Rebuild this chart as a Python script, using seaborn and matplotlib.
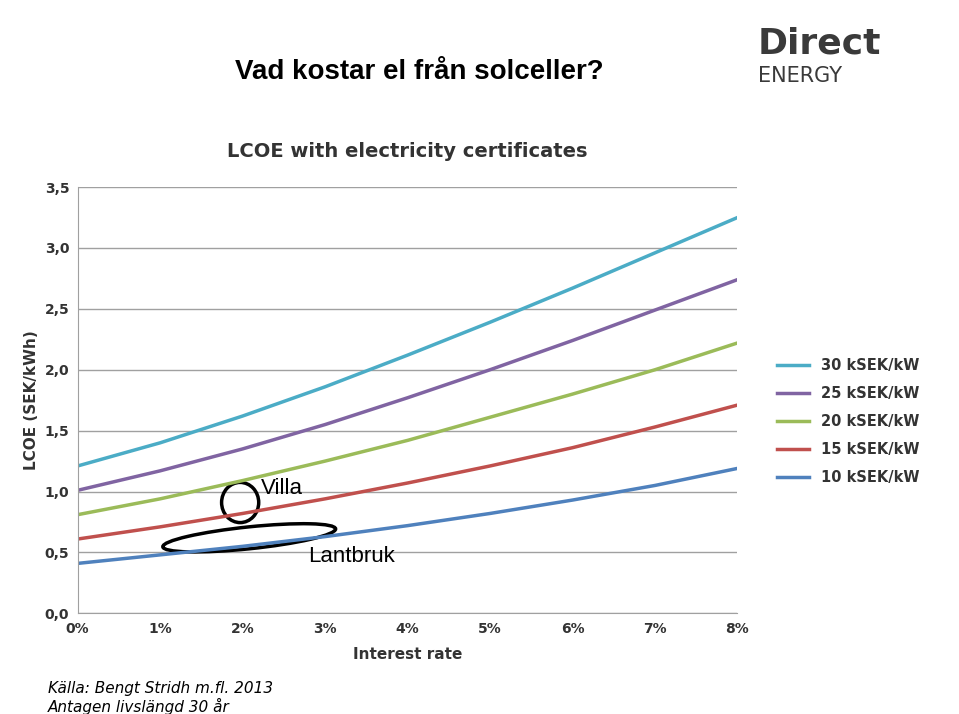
import matplotlib
matplotlib.use("Agg")
import matplotlib.pyplot as plt
from matplotlib.patches import Ellipse
import seaborn as sns
import pandas as pd

rates = [0, 1, 2, 3, 4, 5, 6, 7, 8]
s30 = [1.21, 1.40, 1.62, 1.86, 2.12, 2.39, 2.67, 2.96, 3.25]
s25 = [1.01, 1.17, 1.35, 1.55, 1.77, 2.00, 2.24, 2.49, 2.74]
s20 = [0.81, 0.94, 1.09, 1.25, 1.42, 1.61, 1.80, 2.00, 2.22]
s15 = [0.61, 0.71, 0.82, 0.94, 1.07, 1.21, 1.36, 1.53, 1.71]
s10 = [0.41, 0.48, 0.55, 0.63, 0.72, 0.82, 0.93, 1.05, 1.19]
labels = ["30 kSEK/kW", "25 kSEK/kW", "20 kSEK/kW", "15 kSEK/kW", "10 kSEK/kW"]
colors = ["#4bacc6", "#8064a2", "#9bbb59", "#c0504d", "#4f81bd"]
yticks = [0, 0.5, 1.0, 1.5, 2.0, 2.5, 3.0, 3.5]

rows = []
for lab, vals in zip(labels, [s30, s25, s20, s15, s10]):
    for r, v in zip(rates, vals):
        rows.append({"rate": r, "lcoe": v, "series": lab})
df = pd.DataFrame(rows)

fig = plt.figure(figsize=(9.59, 7.14), dpi=100)
ax = fig.add_axes([0.081, 0.141, 0.688, 0.597])
sns.lineplot(data=df, x="rate", y="lcoe", hue="series", hue_order=labels,
             palette=colors, linewidth=2.5, ax=ax)
ax.set_xlim(0, 8)
ax.set_ylim(0, 3.5)
ax.set_yticks(yticks)
ax.set_yticklabels([f"{t:.1f}".replace(".", ",") for t in yticks], fontsize=10, fontweight="bold", color="#333333")
ax.set_xticks(rates)
ax.set_xticklabels([f"{r}%" for r in rates], fontsize=10, fontweight="bold", color="#333333")
ax.grid(axis="y", color="#a0a0a0", linewidth=1)
ax.set_axisbelow(True)
for sp in ["top", "right"]:
    ax.spines[sp].set_visible(False)
ax.spines["left"].set_color("#a0a0a0")
ax.spines["bottom"].set_color("#a0a0a0")
ax.tick_params(length=0, pad=6)
ax.set_xlabel("Interest rate", fontsize=11, fontweight="bold", color="#333333", labelpad=8)
ax.set_ylabel("LCOE (SEK/kWh)", fontsize=11, fontweight="bold", color="#333333")
ax.set_title("LCOE with electricity certificates", fontsize=14, fontweight="bold",
             color="#333333", pad=22)
leg = ax.legend(loc="center left", bbox_to_anchor=(1.04, 0.45), frameon=False,
          prop={"size": 10.5, "weight": "bold"}, labelspacing=0.9, handlelength=2.2)
for t in leg.get_texts():
    t.set_color("#333333")

ax.add_patch(Ellipse((1.97, 0.91), 0.45, 0.33, fill=False, lw=2.5, color="black"))
ax.add_patch(Ellipse((2.08, 0.62), 2.1, 0.18, angle=4, fill=False, lw=2.5, color="black"))
ax.text(2.22, 0.98, "Villa", fontsize=16, family="Liberation Sans")
ax.text(2.8, 0.42, "Lantbruk", fontsize=16, family="Liberation Sans")

fig.text(0.245, 0.89, "Vad kostar el från solceller?", fontsize=20, fontweight="bold", family="Liberation Sans")
fig.text(0.79, 0.925, "Direct", fontsize=26, fontweight="bold", color="#3a3a3a")
fig.text(0.79, 0.885, "ENERGY", fontsize=15, color="#3a3a3a")
fig.text(0.05, 0.03, "Källa: Bengt Stridh m.fl. 2013", fontsize=11, style="italic")
fig.text(0.05, 0.003, "Antagen livslängd 30 år", fontsize=11, style="italic")
fig.savefig("out.png", dpi=100)
